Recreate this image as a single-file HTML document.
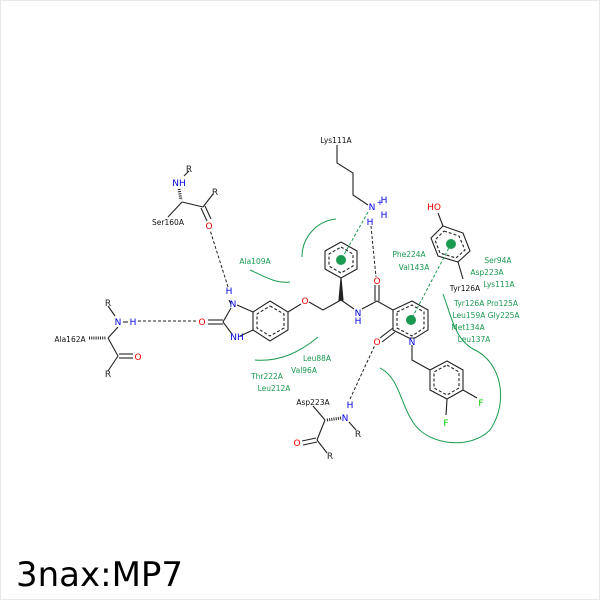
<!DOCTYPE html>
<html><head><meta charset="utf-8"><style>
html,body{margin:0;padding:0;background:#fff}
svg{display:block}
text{font-family:"DejaVu Sans","Liberation Sans",sans-serif}
</style></head><body>
<svg width="600" height="600" viewBox="0 0 600 600" xmlns="http://www.w3.org/2000/svg">
<rect x="0.5" y="0.5" width="599" height="599" fill="#fff" stroke="#e8e8e8"/>
<g stroke="#222" stroke-width="1.1" fill="none">
<polyline points="337,145 337,163 353,173 353,195 368,205"/>
<polygon points="341,242 357,251 357,269 341,278 325,269 325,251"/>
<polyline stroke-dasharray="3,2" points="341,247 353,254 353,266 341,273 329,266 329,254 341,247"/>
<polygon points="341,278 339,300 343,300" fill="#222"/>
<polyline points="341,300 323,310 309,302"/>
<line x1="341" y1="300" x2="354" y2="309"/>
<line x1="362" y1="309" x2="377" y2="301"/>
<line x1="375" y1="301" x2="375" y2="285"/><line x1="379" y1="301" x2="379" y2="285"/>
<line x1="377" y1="301" x2="393" y2="310"/>
<polygon points="270,301 288,312 288,330 270,341 253,330 253,312"/>
<polyline stroke-dasharray="3,2" points="270,306 284,314 284,328 270,336 257,328 257,314 270,306"/>
<line x1="288" y1="312" x2="301" y2="304"/>
<polyline points="253,312 237,305"/>
<polyline points="253,330 240,336"/>
<line x1="231" y1="308" x2="223" y2="322"/><line x1="223" y1="322" x2="232" y2="334"/>
<line x1="208" y1="320" x2="223" y2="320"/><line x1="208" y1="324" x2="223" y2="324"/>
<line x1="229" y1="300" x2="231" y2="304"/>
<polygon points="393,310 412,301 428,310 428,330 415,338 409,338 393,330"/>
<polyline stroke-dasharray="3,2" points="397,312 412,305 424,312 424,328 412,336 397,328 397,312"/>
<line x1="393" y1="328" x2="380" y2="338"/><line x1="395" y1="332" x2="382" y2="342"/>
<polyline points="412,345 412,360 430,370"/>
<polygon points="447,361 463,370 463,390 447,399 430,390 430,370"/>
<polyline stroke-dasharray="3,2" points="447,365 459,372 459,388 447,395 434,388 434,372 447,365"/>
<line x1="463" y1="390" x2="477" y2="398"/>
<line x1="447" y1="399" x2="446" y2="415"/>
<polygon points="443,226 463,233 470,251 458,262 438,256 431,238"/>
<polyline stroke-dasharray="3,2" points="444,231 459,236 465,250 456,258 440,253 435,240 444,231"/>
<line x1="443" y1="226" x2="438" y2="213"/>
<line x1="458" y1="262" x2="463" y2="279"/>
<line x1="168" y1="217" x2="182" y2="202"/>
<line x1="182" y1="202" x2="203" y2="207"/>
<line x1="203" y1="207" x2="213" y2="194"/>
<line x1="201" y1="208" x2="207" y2="221"/><line x1="205" y1="206" x2="211" y2="219"/>
<line x1="184" y1="176" x2="189" y2="171"/>
<line x1="179" y1="189" x2="181" y2="200" stroke-dasharray="1,1.2" stroke-width="3"/>
<line x1="108" y1="306" x2="115" y2="316"/>
<line x1="118" y1="327" x2="108" y2="338"/>
<line x1="108" y1="338" x2="118" y2="356"/>
<line x1="118" y1="356" x2="108" y2="371"/>
<line x1="119" y1="354" x2="133" y2="354"/><line x1="119" y1="358" x2="133" y2="358"/>
<line x1="89" y1="338" x2="106" y2="338" stroke-dasharray="1,1.2" stroke-width="3"/>
<line x1="123" y1="322" x2="128" y2="322"/>
<line x1="313" y1="406" x2="325" y2="420"/>
<line x1="327" y1="420" x2="341" y2="418" stroke-dasharray="1,1.2" stroke-width="3"/>
<line x1="325" y1="420" x2="317" y2="440"/>
<line x1="317" y1="440" x2="327" y2="453"/>
<line x1="316" y1="438" x2="302" y2="441"/><line x1="317" y1="442" x2="303" y2="445"/>
<line x1="349" y1="422" x2="356" y2="430"/>
</g>
<g stroke="#222" stroke-width="1" stroke-dasharray="3,2" fill="none">
<line x1="228" y1="287" x2="210" y2="230"/>
<line x1="138" y1="321" x2="197" y2="321"/>
<line x1="371" y1="226" x2="376" y2="277"/>
<line x1="350" y1="399" x2="375" y2="345"/>
</g>
<g stroke="#1a9a50" stroke-width="1" stroke-dasharray="3,2" fill="none">
<line x1="368" y1="212" x2="341" y2="260"/>
<line x1="451" y1="244" x2="411" y2="320"/>
</g>
<g fill="#1a9a50"><circle cx="341" cy="260" r="5"/><circle cx="451" cy="244" r="5"/><circle cx="411" cy="320" r="5"/></g>
<g stroke="#1a9a50" stroke-width="1" fill="none">
<path d="M336,219 C316,221 302,238 302,257"/>
<path d="M250,270 C262,275 275,284 290,282"/>
<path d="M255,360 C280,362 300,352 318,337"/>
<path d="M443,294 C452,318 455,340 475,350 C500,362 510,400 490,430 C470,450 430,445 415,425 C400,405 400,378 380,368"/>
</g>
<g font-size="9" text-anchor="middle">
<text x="305" y="304" fill="#e00">O</text>
<text x="358" y="316" fill="#0000e0">N</text>
<text x="358" y="324" fill="#0000e0">H</text>
<text x="377" y="284" fill="#e00">O</text>
<text x="372" y="210" fill="#0000e0">N</text>
<text x="380" y="205" fill="#0000e0" font-size="8">+</text>
<text x="384" y="203" fill="#0000e0">H</text>
<text x="384" y="218" fill="#0000e0">H</text>
<text x="370" y="225" fill="#0000e0">H</text>
<text x="412" y="345" fill="#0000e0">N</text>
<text x="377" y="345" fill="#e00">O</text>
<text x="481" y="406" fill="#0c0">F</text>
<text x="446" y="426" fill="#0c0">F</text>
<text x="434" y="210" fill="#e00">HO</text>
<text x="233" y="307" fill="#0000e0">N</text>
<text x="229" y="294" fill="#0000e0">H</text>
<text x="237" y="340" fill="#0000e0">NH</text>
<text x="202" y="325" fill="#e00">O</text>
<text x="209" y="229" fill="#e00">O</text>
<text x="179" y="186" fill="#0000e0">NH</text>
<text x="189" y="172" fill="#222">R</text>
<text x="215" y="195" fill="#222">R</text>
<text x="118" y="325" fill="#0000e0">N</text>
<text x="133" y="325" fill="#0000e0">H</text>
<text x="108" y="306" fill="#222">R</text>
<text x="138" y="360" fill="#e00">O</text>
<text x="108" y="377" fill="#222">R</text>
<text x="345" y="421" fill="#0000e0">N</text>
<text x="350" y="408" fill="#0000e0">H</text>
<text x="358" y="437" fill="#222">R</text>
<text x="297" y="446" fill="#e00">O</text>
<text x="330" y="459" fill="#222">R</text>
</g>
<g font-size="7.5" text-anchor="middle" fill="#111">
<text x="336" y="143">Lys111A</text>
<text x="168" y="225">Ser160A</text>
<text x="70" y="342">Ala162A</text>
<text x="313" y="405">Asp223A</text>
<text x="465" y="291">Tyr126A</text>
</g>
<g font-size="7.5" text-anchor="middle" fill="#1a9a50">
<text x="255" y="264">Ala109A</text>
<text x="409" y="257">Phe224A</text>
<text x="414" y="270">Val143A</text>
<text x="498" y="263">Ser94A</text>
<text x="487" y="275">Asp223A</text>
<text x="499" y="287">Lys111A</text>
<text x="486" y="306">Tyr126A Pro125A</text>
<text x="486" y="318">Leu159A Gly225A</text>
<text x="468" y="330">Met134A</text>
<text x="474" y="342">Leu137A</text>
<text x="317" y="361">Leu88A</text>
<text x="304" y="373">Val96A</text>
<text x="267" y="379">Thr222A</text>
<text x="274" y="391">Leu212A</text>
</g>
<text x="16" y="586" font-size="34" fill="#000">3nax:MP7</text>
</svg>
</body></html>
